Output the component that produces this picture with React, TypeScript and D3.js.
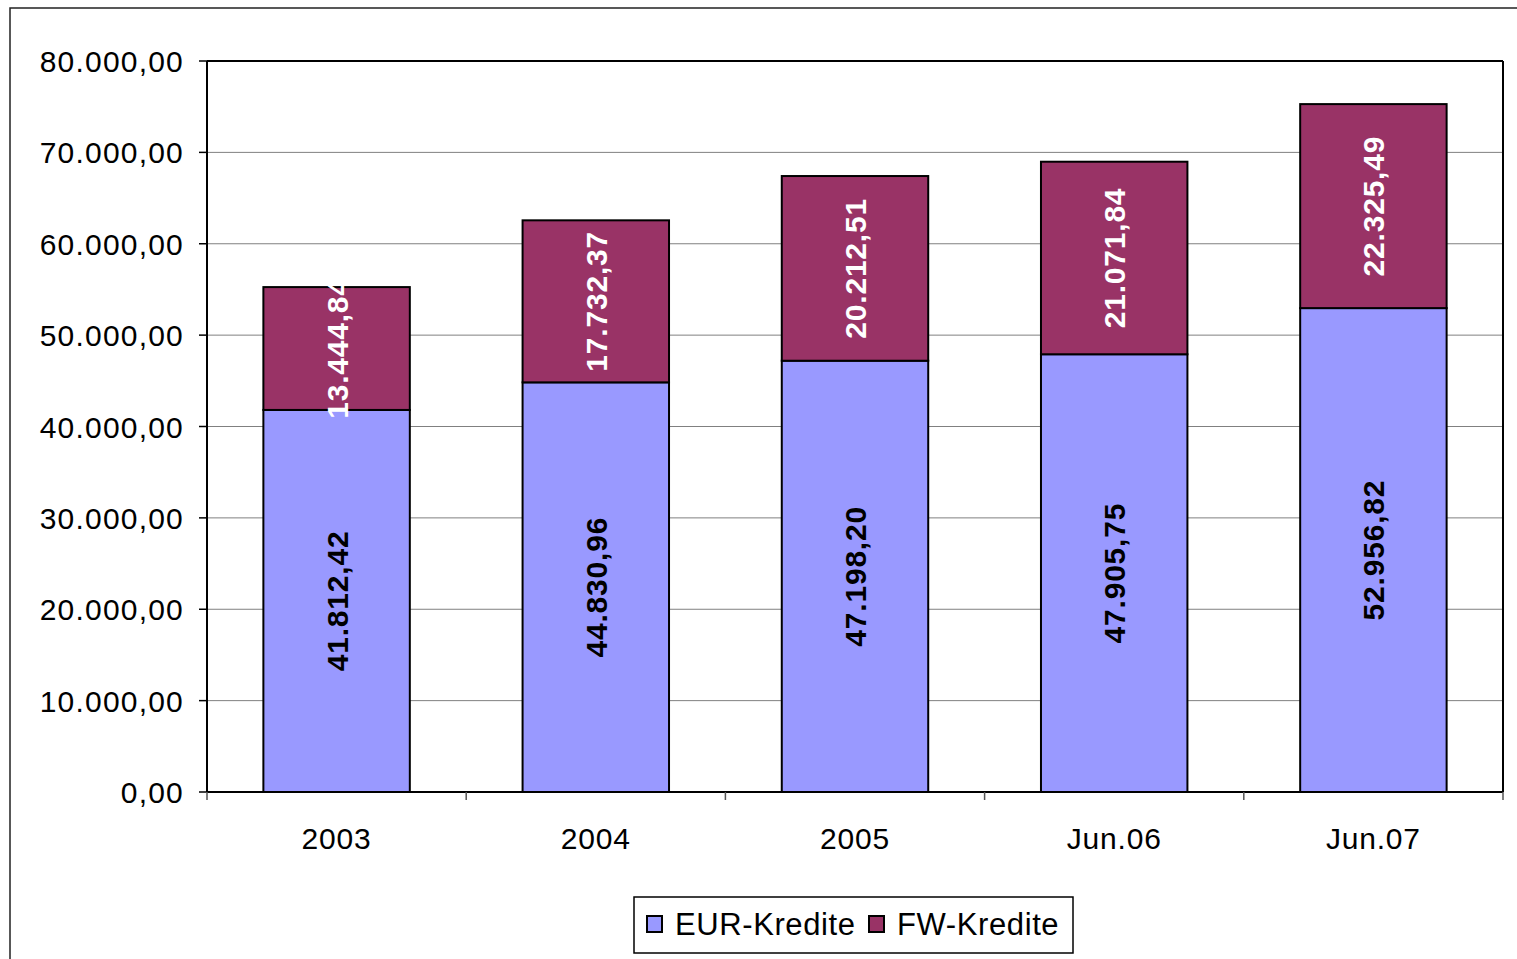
import React from 'react';
import * as d3 from 'd3';

const categories = ['2003', '2004', '2005', 'Jun.06', 'Jun.07'];
const eurValues = [41812.42, 44830.96, 47198.2, 47905.75, 52956.82];
const fwValues = [13444.84, 17732.37, 20212.51, 21071.84, 22325.49];
const seriesNames = ['EUR-Kredite', 'FW-Kredite'];
const yTicks = [0, 10000, 20000, 30000, 40000, 50000, 60000, 70000, 80000];

const W = 1517;
const H = 959;
const FONT = '"Liberation Sans", Arial, sans-serif';

const de = d3.formatLocale({ decimal: ',', thousands: '.', grouping: [3], currency: ['', '€'] });
const fmt = de.format(',.2f');

const App = () => {
  // plot area
  const margin = { top: 61, left: 207, right: 14, bottom: 167 };
  const x0 = margin.left;
  const x1 = W - margin.right;
  const y0 = H - margin.bottom;

  const x = d3.scaleBand<string>().domain(categories).range([x0, x1]).paddingInner(0.435).paddingOuter(0.2175);
  const y = d3.scaleLinear().domain([0, 80000]).range([y0, margin.top]);
  const outer = d3.scaleBand<string>().domain(categories).range([x0, x1]);

  const colors = ['#9999FF', '#993366'];
  const rows = categories.map((c, i) => ({ cat: c, eur: eurValues[i], fw: fwValues[i] }));
  const stack = d3.stack<any>().keys(['eur', 'fw'])(rows);

  return (
    <svg width={W} height={H} style={{ position: 'absolute', left: 0, top: 0 }} fontFamily={FONT}>
      <rect x={0} y={0} width={W} height={H} fill="#fff" />
      {/* chart frame */}
      <rect x={10} y={8} width={W + 20} height={H + 20} fill="none" stroke="#222" strokeWidth={1.5} />

      {/* gridlines */}
      {yTicks.map((t) => (
        <line key={'g' + t} x1={x0} x2={x1} y1={y(t)} y2={y(t)} stroke="#808080" strokeWidth={1} />
      ))}
      {/* plot border top/right */}
      <line x1={x0} x2={x1} y1={margin.top} y2={margin.top} stroke="#000" strokeWidth={2} />
      <line x1={x1} x2={x1} y1={margin.top} y2={y0} stroke="#000" strokeWidth={2} />

      {/* bars */}
      {stack.map((layer, si) =>
        layer.map((d, i) => (
          <rect
            key={si + '-' + i}
            x={x(categories[i])}
            y={y(d[1])}
            width={x.bandwidth()}
            height={y(d[0]) - y(d[1])}
            fill={colors[si]}
            stroke="#000"
            strokeWidth={2}
          />
        ))
      )}

      {/* value labels */}
      {stack.map((layer, si) =>
        layer.map((d, i) => {
          const cx = (x(categories[i]) as number) + x.bandwidth() / 2;
          const cy = (y(d[0]) + y(d[1])) / 2;
          return (
            <text
              key={'l' + si + '-' + i}
              transform={`translate(${cx + 11},${cy}) rotate(-90)`}
              textAnchor="middle"
              fontSize={30}
              fontWeight="bold"
              letterSpacing={0.8}
              fill={si === 0 ? '#000' : '#fff'}
            >
              {fmt(d[1] - d[0])}
            </text>
          );
        })
      )}

      {/* y axis */}
      <line x1={x0} x2={x0} y1={margin.top} y2={y0} stroke="#000" strokeWidth={2} />
      {yTicks.map((t) => (
        <g key={'y' + t}>
          <line x1={x0 - 8} x2={x0} y1={y(t)} y2={y(t)} stroke="#000" strokeWidth={1.5} />
          <text x={184} y={y(t) + 11} textAnchor="end" fontSize={30} letterSpacing={1.2} fill="#000">
            {fmt(t)}
          </text>
        </g>
      ))}

      {/* x axis */}
      <line x1={x0} x2={x1} y1={y0} y2={y0} stroke="#000" strokeWidth={2} />
      {[...categories.map((c) => outer(c) as number), x1].map((p, i) => (
        <line key={'xt' + i} x1={p} x2={p} y1={y0} y2={y0 + 8} stroke="#555" strokeWidth={1.5} />
      ))}
      {categories.map((c) => (
        <text
          key={'xl' + c}
          x={(outer(c) as number) + outer.bandwidth() / 2}
          y={y0 + 57}
          textAnchor="middle"
          fontSize={30}
          letterSpacing={0.8}
          fill="#000"
        >
          {c}
        </text>
      ))}

      {/* legend */}
      <rect x={634} y={897} width={439} height={56} fill="#fff" stroke="#000" strokeWidth={1.5} />
      {seriesNames.map((n, i) => {
        const lx = i === 0 ? 647 : 869;
        return (
          <g key={n}>
            <rect x={lx} y={916} width={15} height={16} fill={colors[i]} stroke="#000" strokeWidth={2} />
            <text x={lx + 28} y={935} fontSize={31} letterSpacing={0.6} fill="#000">
              {n}
            </text>
          </g>
        );
      })}
    </svg>
  );
};

export default App;
